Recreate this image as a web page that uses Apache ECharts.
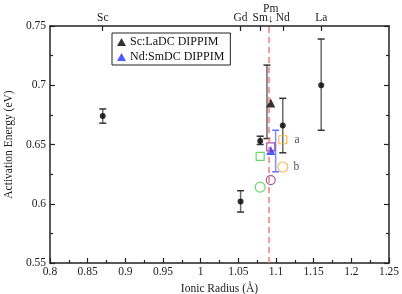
<!DOCTYPE html>
<html><head><meta charset="utf-8">
<script src="https://cdn.jsdelivr.net/npm/echarts@6/dist/echarts.min.js"></script>
<style>html,body{margin:0;padding:0;background:#fff}#c{width:402px;height:294px}</style>
</head><body><div id="c"></div>
<script>
// Black DIPPIM points with error bars
const dippimX = [0.870, 1.053, 1.079, 1.109, 1.160];
const dippimY = [0.674, 0.602, 0.653, 0.666, 0.700];
const dippimLow = [0.668, 0.593, 0.650, 0.643, 0.662];
const dippimHigh = [0.680, 0.611, 0.657, 0.689, 0.739];
// Sc:LaDC DIPPIM (black triangle)
const scLaX = [1.093];
const scLaY = [0.685];
const scLaErrX = [1.088];
const scLaLow = [0.655];
const scLaHigh = [0.717];
// Nd:SmDC DIPPIM (blue triangle)
const ndSmX = [1.093];
const ndSmY = [0.645];
const ndSmErrX = [1.0995];
const ndSmLow = [0.627];
const ndSmHigh = [0.662];
// open markers
const orangeSq = [[1.109, 0.654]];
const orangeCi = [[1.109, 0.631]];
const purpleSq = [[1.093, 0.648]];
const purpleCi = [[1.093, 0.620]];
const greenSq = [[1.079, 0.640]];
const greenCi = [[1.079, 0.614]];
const labelA = ['a'];
const labelB = ['b'];
// top axis element labels
const elemNames = ['Sc', 'Gd', 'Sm', 'Pm', 'Nd', 'La'];
const elemRadii = [0.870, 1.053, 1.079, 1.093, 1.109, 1.160];
const pmLine = 1.093;

const FONT = 'Liberation Serif';
const AX = '#222';

function errSeries(xs, lows, highs, lineColor, capColor) {
  return {
    type: 'custom',
    silent: true,
    z: 1,
    data: xs.map((x, i) => [x, lows[i], highs[i]]),
    encode: { x: 0, y: [1, 2] },
    renderItem: function (params, api) {
      const lo = api.coord([api.value(0), api.value(1)]);
      const hi = api.coord([api.value(0), api.value(2)]);
      const w = 3.5;
      return {
        type: 'group',
        children: [
          { type: 'line', shape: { x1: lo[0], y1: lo[1], x2: hi[0], y2: hi[1] }, style: { stroke: lineColor, lineWidth: 1.5 } },
          { type: 'line', shape: { x1: lo[0] - w, y1: lo[1], x2: lo[0] + w, y2: lo[1] }, style: { stroke: capColor, lineWidth: 1.5 } },
          { type: 'line', shape: { x1: hi[0] - w, y1: hi[1], x2: hi[0] + w, y2: hi[1] }, style: { stroke: capColor, lineWidth: 1.5 } }
        ]
      };
    }
  };
}

const topNameMap = {};
elemRadii.forEach((r, i) => { topNameMap[r.toFixed(3)] = elemNames[i]; });
const topTickVals = elemRadii.filter((r, i) => elemNames[i] !== 'Pm');

const chart = echarts.init(document.getElementById('c'), null, { renderer: 'canvas' });
chart.setOption({
  animation: false,
  backgroundColor: '#fff',
  textStyle: { fontFamily: FONT },
  grid: { left: 50, right: 13, top: 26, bottom: 31, containLabel: false, outerBoundsMode: 'none' },
  legend: {
    left: 112, top: 33, orient: 'vertical',
    data: ['Sc:LaDC DIPPIM', 'Nd:SmDC DIPPIM'],
    borderColor: '#222', borderWidth: 1, padding: [3, 6, 2, 5],
    itemWidth: 9, itemHeight: 8, itemGap: 3,
    textStyle: { fontFamily: FONT, fontSize: 12, color: '#111', padding: [0, 0, 0, -1] }
  },
  xAxis: [
    {
      type: 'value', position: 'bottom', min: 0.8, max: 1.25, interval: 0.05,
      name: 'Ionic Radius (Å)', nameLocation: 'middle', nameGap: 17,
      nameTextStyle: { fontFamily: FONT, fontSize: 11.5, color: '#222' },
      axisLine: { lineStyle: { color: AX, width: 1.5 } },
      axisTick: { inside: true, length: 5, lineStyle: { color: AX, width: 1.2 } },
      minorTick: { show: true, splitNumber: 2, length: 3, lineStyle: { color: AX, width: 1.2 } },
      axisLabel: { fontFamily: FONT, fontSize: 11.5, color: '#222', margin: 3 },
      splitLine: { show: false }
    },
    {
      type: 'value', position: 'top', min: 0.8, max: 1.25,
      axisLine: { show: true, onZero: false, lineStyle: { color: AX, width: 1.5 } },
      axisTick: { show: true, inside: true, length: 5, customValues: topTickVals, lineStyle: { color: AX, width: 1.2 } },
      axisLabel: {
        show: true, customValues: elemRadii, margin: 2,
        fontFamily: FONT, fontSize: 11.5, color: '#222',
        formatter: function (v) {
          const n = topNameMap[Number(v).toFixed(3)];
          if (n === 'Pm') return 'Pm\n{arr|↓}';
          return n || '';
        },
        lineHeight: 12,
        rich: { arr: { fontSize: 11, lineHeight: 9, color: '#222' } }
      },
      splitLine: { show: false }
    }
  ],
  yAxis: [
    {
      type: 'value', position: 'left', min: 0.55, max: 0.75, interval: 0.05,
      name: 'Activation Energy (eV)', nameLocation: 'middle', nameGap: 34,
      nameTextStyle: { fontFamily: FONT, fontSize: 11.5, color: '#222' },
      axisLine: { show: true, lineStyle: { color: AX, width: 1.5 } },
      axisTick: { inside: true, length: 5, lineStyle: { color: AX, width: 1.2 } },
      minorTick: { show: true, splitNumber: 2, length: 3, lineStyle: { color: AX, width: 1.2 } },
      axisLabel: { fontFamily: FONT, fontSize: 11.5, color: '#222', margin: 4 },
      splitLine: { show: false }
    },
    {
      type: 'value', position: 'right', min: 0.55, max: 0.75, interval: 0.05,
      axisLine: { show: true, lineStyle: { color: AX, width: 1.5 } },
      axisTick: { inside: true, length: 5, lineStyle: { color: AX, width: 1.2 } },
      minorTick: { show: true, splitNumber: 2, length: 3, lineStyle: { color: AX, width: 1.2 } },
      axisLabel: { show: false },
      splitLine: { show: false }
    }
  ],
  series: [
    {
      type: 'line', data: [], silent: true,
      markLine: {
        silent: true, symbol: ['none', 'none'], label: { show: false },
        lineStyle: { color: '#F27C7C', type: [6, 4], width: 1.5 },
        data: [{ xAxis: pmLine }]
      }
    },
    errSeries(dippimX, dippimLow, dippimHigh, '#6a6a6a', '#333'),
    errSeries(scLaErrX, scLaLow, scLaHigh, '#6a6a6a', '#333'),
    errSeries(ndSmErrX, ndSmLow, ndSmHigh, '#8090ff', '#6070ff'),
    {
      type: 'scatter', name: 'DIPPIM', symbol: 'circle', symbolSize: 6, z: 3,
      itemStyle: { color: '#000' },
      data: dippimX.map((x, i) => [x, dippimY[i]])
    },
    {
      type: 'scatter', name: 'Sc:LaDC DIPPIM', symbol: 'triangle', symbolSize: 9, z: 4,
      itemStyle: { color: '#000' },
      data: scLaX.map((x, i) => [x, scLaY[i]])
    },
    {
      type: 'scatter', name: 'Nd:SmDC DIPPIM', symbol: 'triangle', symbolSize: 9, z: 4,
      itemStyle: { color: '#1f2fff' },
      data: ndSmX.map((x, i) => [x, ndSmY[i]])
    },
    {
      type: 'scatter', symbol: 'rect', symbolSize: 8, z: 3,
      itemStyle: { color: 'rgba(0,0,0,0)', borderColor: '#FFA726', borderWidth: 1.2 },
      label: { show: true, position: 'right', distance: 7, formatter: () => labelA[0], fontFamily: FONT, fontSize: 11.5, color: '#222' },
      data: orangeSq
    },
    {
      type: 'scatter', symbol: 'circle', symbolSize: 10, z: 3,
      itemStyle: { color: 'rgba(0,0,0,0)', borderColor: '#FFA726', borderWidth: 1.2 },
      label: { show: true, position: 'right', distance: 5, formatter: () => labelB[0], fontFamily: FONT, fontSize: 11.5, color: '#222' },
      data: orangeCi
    },
    {
      type: 'scatter', symbol: 'rect', symbolSize: 8, z: 3,
      itemStyle: { color: 'rgba(0,0,0,0)', borderColor: '#8A2A8A', borderWidth: 1.2 },
      data: purpleSq
    },
    {
      type: 'scatter', symbol: 'circle', symbolSize: 9, z: 3,
      itemStyle: { color: 'rgba(0,0,0,0)', borderColor: '#8A2A8A', borderWidth: 1.2 },
      data: purpleCi
    },
    {
      type: 'scatter', symbol: 'rect', symbolSize: 8, z: 3,
      itemStyle: { color: 'rgba(0,0,0,0)', borderColor: '#44CC44', borderWidth: 1.2 },
      data: greenSq
    },
    {
      type: 'scatter', symbol: 'circle', symbolSize: 10, z: 3,
      itemStyle: { color: 'rgba(0,0,0,0)', borderColor: '#44CC44', borderWidth: 1.2 },
      data: greenCi
    }
  ]
});
</script>
</body></html>
